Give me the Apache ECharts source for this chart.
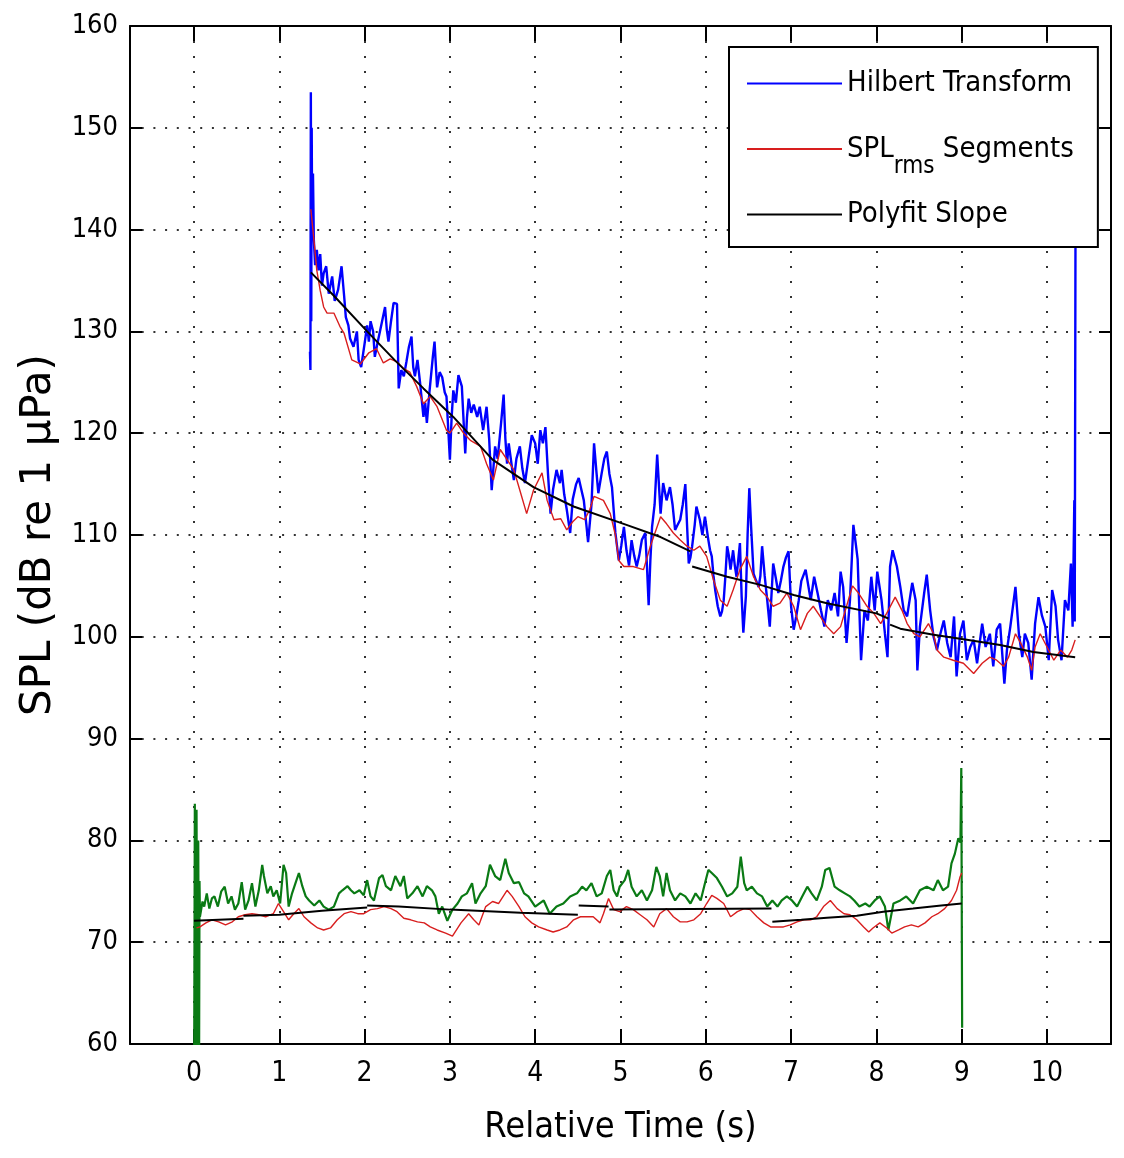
<!DOCTYPE html>
<html>
<head>
<meta charset="utf-8">
<script src="https://cdn.jsdelivr.net/npm/echarts@6/dist/echarts.min.js"></script>
<style>
  html, body { margin: 0; padding: 0; background: #fff; }
  #main { width: 1124px; height: 1158px; }
</style>
</head>
<body>
<div id="main"></div>
<script>
// tick labels
const timeTicks = [0, 1, 2, 3, 4, 5, 6, 7, 8, 9, 10];

// Hilbert transform envelope [s, dB]
const hilbert = [
  [1.360, 128.0], [1.365, 126.2], [1.370, 153.5], [1.375, 131.0], [1.380, 150.0], [1.385, 141.0],
  [1.395, 145.5], [1.405, 139.0], [1.42, 136.5], [1.44, 138.0], [1.46, 136.0], [1.48, 137.6],
  [1.50, 134.5], [1.52, 135.7], [1.55, 136.4], [1.58, 133.7], [1.62, 135.4], [1.65, 133.0],
  [1.69, 134.1], [1.73, 136.4], [1.76, 133.5], [1.78, 131.4], [1.81, 130.6], [1.83, 129.3],
  [1.87, 128.5], [1.91, 130.0], [1.93, 127.2], [1.96, 126.5], [2.00, 128.8], [2.03, 130.6],
  [2.05, 129.0], [2.07, 131.0], [2.10, 130.0], [2.12, 127.5], [2.15, 128.8], [2.18, 130.0],
  [2.21, 131.2], [2.24, 132.4], [2.26, 130.2], [2.28, 129.0], [2.31, 131.0], [2.34, 132.8],
  [2.38, 132.7], [2.40, 124.4], [2.43, 126.2], [2.46, 125.6], [2.49, 127.0], [2.52, 128.5],
  [2.55, 129.5], [2.57, 126.5], [2.59, 125.6], [2.62, 127.2], [2.65, 125.0], [2.69, 121.6],
  [2.71, 123.0], [2.73, 121.0], [2.76, 124.0], [2.80, 127.5], [2.82, 129.0], [2.85, 124.5],
  [2.88, 126.0], [2.91, 125.5], [2.94, 124.0], [2.96, 123.6], [3.00, 117.4], [3.02, 121.5],
  [3.04, 124.2], [3.07, 123.0], [3.10, 125.7], [3.14, 124.6], [3.18, 118.0], [3.20, 121.5],
  [3.22, 123.4], [3.25, 122.0], [3.28, 122.8], [3.32, 121.6], [3.35, 122.6], [3.39, 120.3],
  [3.43, 122.6], [3.46, 119.5], [3.49, 114.4], [3.53, 118.7], [3.56, 117.5], [3.60, 121.0],
  [3.63, 123.8], [3.65, 119.5], [3.67, 117.0], [3.69, 119.0], [3.71, 119.0], [3.73, 116.5],
  [3.75, 115.4], [3.78, 117.5], [3.82, 118.7], [3.85, 116.5], [3.88, 115.1], [3.92, 117.5],
  [3.96, 119.8], [4.00, 119.0], [4.03, 117.0], [4.06, 120.3], [4.09, 119.0], [4.12, 120.6],
  [4.15, 116.0], [4.18, 112.1], [4.21, 114.5], [4.25, 116.4], [4.29, 115.1], [4.31, 116.4],
  [4.34, 114.0], [4.37, 112.5], [4.41, 110.2], [4.44, 113.5], [4.48, 115.0], [4.51, 115.6],
  [4.54, 114.5], [4.57, 113.4], [4.60, 111.0], [4.62, 109.3], [4.66, 113.0], [4.69, 119.0],
  [4.72, 116.0], [4.74, 114.1], [4.78, 116.1], [4.81, 117.5], [4.84, 118.2], [4.87, 116.0],
  [4.90, 114.7], [4.94, 110.2], [4.98, 107.5], [5.01, 109.0], [5.04, 110.8], [5.07, 108.5],
  [5.10, 107.0], [5.13, 109.5], [5.16, 108.0], [5.19, 106.9], [5.22, 108.0], [5.25, 109.5],
  [5.29, 110.2], [5.31, 107.0], [5.33, 103.1], [5.35, 107.5], [5.37, 110.8], [5.40, 113.0],
  [5.43, 117.9], [5.45, 115.0], [5.47, 112.1], [5.50, 115.1], [5.54, 113.4], [5.58, 114.7],
  [5.61, 113.0], [5.64, 110.5], [5.67, 111.0], [5.70, 111.5], [5.73, 113.0], [5.76, 115.0],
  [5.78, 111.0], [5.80, 107.2], [5.82, 107.8], [5.84, 108.9], [5.87, 111.0], [5.89, 112.8],
  [5.93, 111.5], [5.96, 110.0], [5.99, 111.8], [6.03, 109.5], [6.05, 108.5], [6.07, 107.9],
  [6.09, 106.0], [6.11, 104.6], [6.14, 103.0], [6.17, 102.0], [6.19, 102.5], [6.21, 103.6],
  [6.23, 106.0], [6.25, 108.9], [6.27, 108.0], [6.29, 106.6], [6.32, 108.5], [6.34, 107.0],
  [6.36, 105.9], [6.38, 107.5], [6.40, 109.2], [6.42, 104.0], [6.44, 100.4], [6.47, 104.0],
  [6.49, 110.0], [6.51, 114.6], [6.53, 111.0], [6.56, 106.2], [6.59, 105.5], [6.62, 104.9],
  [6.64, 106.0], [6.66, 108.9], [6.69, 106.0], [6.72, 103.6], [6.75, 101.0], [6.79, 107.2],
  [6.82, 105.8], [6.85, 104.3], [6.88, 105.5], [6.91, 106.9], [6.94, 107.8], [6.97, 108.4],
  [7.00, 103.0], [7.03, 100.7], [7.06, 102.0], [7.09, 103.6], [7.12, 105.5], [7.17, 106.6],
  [7.23, 103.6], [7.27, 105.9], [7.31, 104.3], [7.35, 102.6], [7.39, 101.0], [7.43, 103.6],
  [7.47, 102.6], [7.51, 104.3], [7.55, 102.0], [7.58, 106.4], [7.61, 104.9], [7.65, 99.4],
  [7.69, 103.6], [7.73, 111.0], [7.76, 109.0], [7.78, 107.6], [7.82, 97.7], [7.86, 102.6],
  [7.90, 101.6], [7.94, 105.9], [7.98, 102.6], [8.01, 106.4], [8.06, 103.6], [8.10, 100.3],
  [8.13, 98.0], [8.16, 106.9], [8.19, 108.5], [8.24, 106.9], [8.28, 104.9], [8.32, 102.6],
  [8.36, 102.0], [8.42, 105.3], [8.46, 103.6], [8.48, 96.7], [8.51, 101.0], [8.56, 104.3],
  [8.59, 106.1], [8.63, 102.6], [8.67, 100.0], [8.71, 98.7], [8.75, 100.3], [8.79, 101.6],
  [8.83, 99.4], [8.87, 98.0], [8.91, 102.0], [8.94, 96.1], [8.98, 100.3], [9.02, 101.6],
  [9.06, 97.7], [9.10, 99.0], [9.14, 99.7], [9.18, 97.4], [9.24, 101.3], [9.28, 99.0],
  [9.33, 100.3], [9.37, 97.1], [9.41, 100.7], [9.45, 101.3], [9.50, 95.4], [9.53, 98.7],
  [9.57, 101.0], [9.63, 104.9], [9.67, 100.3], [9.71, 98.0], [9.74, 100.3], [9.78, 99.4],
  [9.82, 95.8], [9.86, 101.3], [9.90, 103.9], [9.94, 102.1], [9.98, 101.0], [10.02, 97.7],
  [10.06, 104.6], [10.10, 103.0], [10.13, 99.7], [10.17, 97.7], [10.21, 103.6], [10.25, 102.6],
  [10.28, 107.2], [10.30, 101.0], [10.31, 106.9], [10.32, 113.4], [10.325, 101.5], [10.335, 145.0]
];

// SPL rms segments, loud part
const rmsUpper = [
  [1.37, 142.0], [1.40, 139.5], [1.44, 136.0], [1.48, 134.0], [1.52, 132.4], [1.56, 131.8],
  [1.64, 131.8], [1.71, 130.5], [1.76, 129.8], [1.85, 127.2], [1.95, 126.8], [2.05, 127.9],
  [2.14, 128.3], [2.22, 126.9], [2.30, 127.3], [2.38, 127.0], [2.45, 126.4], [2.53, 126.0],
  [2.61, 124.6], [2.69, 122.9], [2.77, 123.6], [2.85, 122.6], [2.96, 120.3], [3.00, 120.0],
  [3.08, 121.0], [3.16, 120.0], [3.24, 119.3], [3.36, 118.7], [3.43, 117.0], [3.51, 115.4],
  [3.59, 118.4], [3.67, 117.4], [3.75, 116.4], [3.82, 114.4], [3.90, 112.1], [3.98, 114.4],
  [4.08, 116.1], [4.14, 113.4], [4.22, 111.5], [4.30, 111.6], [4.37, 110.5], [4.44, 111.3],
  [4.50, 111.8], [4.58, 111.5], [4.64, 112.5], [4.69, 113.8], [4.80, 113.4], [4.88, 112.1],
  [4.94, 110.0], [4.98, 107.5], [5.04, 106.9], [5.15, 106.9], [5.27, 106.6], [5.35, 108.9],
  [5.47, 111.8], [5.54, 111.1], [5.62, 110.2], [5.70, 109.5], [5.78, 108.9], [5.86, 108.5],
  [5.93, 108.9], [6.01, 107.9], [6.09, 105.6], [6.17, 103.6], [6.25, 103.0], [6.32, 104.6],
  [6.40, 106.6], [6.48, 107.9], [6.56, 105.9], [6.64, 104.6], [6.72, 103.9], [6.79, 103.0],
  [6.87, 103.3], [6.95, 104.3], [7.03, 103.0], [7.11, 100.7], [7.19, 102.3], [7.26, 103.0],
  [7.34, 102.0], [7.42, 101.0], [7.50, 100.3], [7.58, 101.0], [7.66, 103.3], [7.72, 105.0],
  [7.79, 104.3], [7.89, 103.0], [7.97, 102.3], [8.05, 101.3], [8.12, 102.3], [8.22, 103.9],
  [8.30, 102.6], [8.36, 101.3], [8.44, 100.3], [8.51, 100.0], [8.61, 101.3], [8.67, 100.3],
  [8.71, 98.7], [8.79, 98.0], [8.90, 97.7], [9.02, 97.4], [9.14, 96.4], [9.24, 97.4],
  [9.33, 98.0], [9.41, 97.7], [9.49, 97.1], [9.55, 98.0], [9.63, 100.3], [9.69, 99.4],
  [9.77, 98.0], [9.82, 96.7], [9.86, 99.0], [9.92, 100.3], [10.00, 99.0], [10.08, 97.7],
  [10.16, 98.7], [10.24, 98.0], [10.29, 98.7], [10.33, 99.7]
];

// SPL rms segments, quiet part
const rmsLower = [
  [0.03, 71.4], [0.07, 71.5], [0.14, 71.9], [0.21, 72.2], [0.29, 72.0], [0.37, 71.7],
  [0.45, 72.0], [0.52, 72.5], [0.60, 72.7], [0.68, 72.8], [0.76, 72.7], [0.84, 72.5],
  [0.93, 72.8], [0.99, 73.8], [1.05, 73.0], [1.11, 72.2], [1.17, 72.8], [1.23, 73.3],
  [1.29, 72.5], [1.37, 71.9], [1.45, 71.4], [1.52, 71.2], [1.60, 71.4], [1.68, 72.2],
  [1.76, 72.8], [1.84, 73.0], [1.92, 72.8], [1.99, 72.8], [2.07, 73.2], [2.15, 73.3],
  [2.23, 73.5], [2.31, 73.3], [2.38, 73.0], [2.46, 72.35], [2.54, 72.2], [2.62, 72.0],
  [2.70, 71.9], [2.77, 71.5], [2.85, 71.2], [2.95, 70.9], [3.03, 70.6], [3.13, 71.9],
  [3.22, 72.8], [3.28, 72.2], [3.34, 71.7], [3.42, 73.5], [3.50, 74.0], [3.57, 73.8],
  [3.67, 75.1], [3.73, 74.5], [3.81, 73.5], [3.88, 72.5], [3.96, 71.9], [4.04, 71.5],
  [4.14, 71.2], [4.21, 71.0], [4.29, 71.2], [4.37, 71.5], [4.45, 72.2], [4.53, 72.5],
  [4.60, 72.5], [4.68, 72.5], [4.76, 71.9], [4.80, 72.8], [4.86, 74.3], [4.92, 73.2],
  [4.99, 73.0], [5.07, 73.5], [5.15, 73.2], [5.23, 72.7], [5.31, 72.2], [5.39, 71.5],
  [5.46, 72.8], [5.54, 73.3], [5.62, 72.5], [5.70, 72.0], [5.78, 72.0], [5.86, 72.2],
  [5.94, 72.8], [6.01, 73.8], [6.07, 74.6], [6.13, 74.3], [6.21, 73.8], [6.29, 72.5],
  [6.37, 73.0], [6.45, 73.3], [6.52, 73.2], [6.60, 72.5], [6.68, 71.9], [6.76, 71.5],
  [6.84, 71.5], [6.91, 71.5], [6.99, 71.7], [7.07, 72.0], [7.15, 72.2], [7.23, 72.2],
  [7.30, 72.5], [7.38, 73.5], [7.46, 74.1], [7.54, 73.3], [7.62, 72.8], [7.69, 72.7],
  [7.77, 72.2], [7.85, 71.5], [7.91, 71.0], [7.96, 71.4], [8.04, 71.9], [8.12, 71.4],
  [8.18, 70.9], [8.26, 71.2], [8.33, 71.5], [8.41, 71.7], [8.49, 71.5], [8.57, 71.9],
  [8.65, 72.5], [8.72, 72.8], [8.80, 73.3], [8.88, 74.1], [8.94, 75.1], [8.98, 76.4],
  [9.00, 76.8]
];

// polyfit slope segments (null = gap between segments)
const fitUpper = [
  [1.37, 135.8], [1.64, 133.5], [2.03, 130.0], [2.35, 127.2], [2.69, 124.4], [3.04, 121.6],
  [3.50, 117.4], [3.98, 114.7], [4.45, 112.8], [5.07, 111.0], [5.47, 109.8], [5.82, 108.4],
  [5.83, null], [5.84, 106.9], [6.25, 105.9], [6.64, 105.1], [7.03, 104.1], [7.42, 103.3],
  [8.00, 102.3], [8.14, 101.8], [8.15, null], [8.16, 101.2], [8.28, 100.8], [8.67, 100.2],
  [9.06, 99.7], [9.45, 99.2], [9.84, 98.5], [10.33, 98.0]
];
const fitLower = [
  [0.00, 72.1], [0.58, 72.3], [0.58, null], [0.58, 72.6], [1.00, 72.7], [1.50, 73.1],
  [2.03, 73.4], [2.03, null], [2.03, 73.6], [2.40, 73.5], [3.00, 73.2], [3.83, 72.9],
  [4.50, 72.7], [4.50, null], [4.51, 73.6], [4.86, 73.5], [4.86, null], [4.87, 73.2],
  [6.77, 73.3], [6.77, null], [6.78, 72.0], [7.12, 72.2], [7.42, 72.4], [7.77, 72.6],
  [8.08, 73.0], [8.43, 73.3], [8.76, 73.6], [9.00, 73.8]
];

// background noise level, 0 - 9 s
const noise = [
  [0.00, 50.0], [0.01, 83.6], [0.02, 52.0], [0.03, 83.0], [0.04, 55.0], [0.05, 80.0],
  [0.06, 58.0], [0.065, 76.0], [0.07, 72.5], [0.10, 74.0], [0.12, 73.5], [0.15, 74.8],
  [0.18, 73.3], [0.21, 74.3], [0.24, 74.5], [0.28, 73.5], [0.32, 75.0], [0.36, 75.45],
  [0.40, 73.8], [0.44, 74.5], [0.48, 73.2], [0.52, 73.8], [0.56, 75.9], [0.60, 73.2],
  [0.64, 74.1], [0.68, 75.8], [0.72, 73.5], [0.76, 75.1], [0.80, 77.6], [0.82, 76.5],
  [0.86, 74.8], [0.90, 75.5], [0.93, 74.5], [0.97, 75.1], [1.01, 73.8], [1.05, 77.6],
  [1.08, 76.8], [1.11, 73.5], [1.15, 74.8], [1.19, 75.8], [1.23, 76.8], [1.27, 75.5],
  [1.31, 74.5], [1.35, 74.1], [1.41, 73.6], [1.47, 74.1], [1.52, 73.5], [1.58, 73.2],
  [1.64, 73.5], [1.70, 74.8], [1.74, 75.1], [1.80, 75.5], [1.84, 75.1], [1.88, 74.8],
  [1.94, 75.1], [1.99, 74.6], [2.03, 76.1], [2.07, 74.5], [2.11, 74.1], [2.17, 76.3],
  [2.21, 76.6], [2.25, 75.5], [2.31, 75.1], [2.36, 76.5], [2.42, 75.5], [2.46, 76.5],
  [2.50, 74.3], [2.56, 74.8], [2.62, 75.5], [2.68, 74.5], [2.73, 75.5], [2.79, 75.1],
  [2.83, 74.5], [2.87, 72.8], [2.91, 73.5], [2.97, 72.1], [3.03, 73.2], [3.09, 73.8],
  [3.14, 74.5], [3.20, 74.8], [3.26, 75.8], [3.30, 73.8], [3.36, 74.8], [3.42, 75.5],
  [3.47, 77.6], [3.53, 76.5], [3.59, 76.1], [3.65, 78.2], [3.69, 76.8], [3.75, 75.8],
  [3.81, 75.9], [3.87, 74.8], [3.92, 74.5], [4.00, 73.5], [4.10, 74.1], [4.17, 72.8],
  [4.25, 73.5], [4.33, 73.8], [4.41, 74.5], [4.49, 74.8], [4.55, 75.45], [4.60, 75.1],
  [4.66, 75.8], [4.72, 74.5], [4.78, 74.8], [4.84, 76.5], [4.88, 77.1], [4.92, 75.1],
  [4.96, 74.5], [4.99, 75.45], [5.05, 76.1], [5.09, 77.1], [5.13, 75.45], [5.19, 74.5],
  [5.25, 75.1], [5.31, 74.1], [5.37, 75.1], [5.42, 77.4], [5.46, 76.5], [5.50, 74.5],
  [5.54, 76.8], [5.58, 75.1], [5.64, 74.1], [5.70, 74.8], [5.76, 74.5], [5.82, 73.8],
  [5.88, 74.8], [5.94, 74.1], [5.99, 75.8], [6.03, 77.1], [6.07, 76.8], [6.13, 76.3],
  [6.19, 75.45], [6.25, 74.5], [6.31, 74.8], [6.37, 75.45], [6.41, 78.4], [6.45, 75.8],
  [6.48, 75.1], [6.54, 75.45], [6.60, 74.8], [6.66, 74.5], [6.72, 73.5], [6.78, 74.1],
  [6.84, 73.5], [6.89, 74.1], [6.95, 74.5], [7.01, 74.1], [7.07, 73.5], [7.13, 74.5],
  [7.19, 75.45], [7.24, 74.8], [7.30, 74.1], [7.36, 75.45], [7.40, 77.1], [7.45, 77.3],
  [7.51, 75.45], [7.57, 75.1], [7.63, 74.8], [7.69, 74.5], [7.74, 74.1], [7.80, 73.5],
  [7.87, 73.8], [7.92, 73.5], [7.98, 74.1], [8.04, 74.5], [8.10, 73.5], [8.14, 71.2],
  [8.20, 73.8], [8.28, 74.1], [8.35, 74.5], [8.43, 73.8], [8.51, 75.1], [8.59, 75.45],
  [8.67, 75.1], [8.72, 76.1], [8.78, 75.1], [8.84, 75.45], [8.88, 77.75], [8.92, 78.7],
  [8.96, 80.2], [8.985, 79.8], [8.995, 87.1], [9.005, 61.6]
];

const condensed = "'Liberation Sans Narrow', 'DejaVu Sans Condensed', 'Liberation Sans', sans-serif";
const plain = "'DejaVu Sans', 'Liberation Sans', sans-serif";

const chart = echarts.init(document.getElementById('main'));

const edgeLine = { show: true, onZero: false, lineStyle: { color: '#000', width: 2 } };
const dots = (gap) => ({ show: true, lineStyle: { type: [2, gap], color: '#333', width: 2 } });

const option = {
  animation: false,
  backgroundColor: '#fff',
  grid: { left: 130, right: 13, top: 26, bottom: 114 },
  legend: {
    data: ['Hilbert Transform', 'SPLrms Segments', 'Polyfit Slope'],
    orient: 'vertical',
    left: 729,
    top: 47,
    backgroundColor: '#fff',
    borderColor: '#000',
    borderWidth: 2,
    padding: [22, 24, 18, 18],
    icon: 'rect',
    itemWidth: 95,
    itemHeight: 2,
    itemGap: 21,
    selectedMode: false,
    z: 10,
    formatter: (n) => n === 'SPLrms Segments' ? '{a|SPL}{b|rms}{a| Segments}' : '{a|' + n + '}',
    textStyle: {
      rich: {
        a: { fontFamily: condensed, fontSize: 29, lineHeight: 40, color: '#000' },
        b: { fontFamily: condensed, fontSize: 24, lineHeight: 2, padding: [36, 0, 0, 0], color: '#000' }
      }
    }
  },
  xAxis: [
    {
      type: 'value', min: -0.75, max: 10.75, position: 'bottom',
      axisLine: edgeLine,
      axisTick: { show: true, inside: true, length: 15, customValues: timeTicks, lineStyle: { color: '#000', width: 2 } },
      axisLabel: { customValues: timeTicks, margin: 16, color: '#000', fontFamily: condensed, fontSize: 28 },
      splitLine: dots(13),
      name: 'Relative Time (s)', nameLocation: 'middle', nameGap: 66,
      nameTextStyle: { color: '#000', fontFamily: condensed, fontSize: 36 }
    },
    {
      type: 'value', min: -0.75, max: 10.75, position: 'top',
      axisLine: edgeLine,
      axisTick: { show: true, inside: true, length: 15, customValues: timeTicks, lineStyle: { color: '#000', width: 2 } },
      axisLabel: { show: false },
      splitLine: { show: false }
    }
  ],
  yAxis: [
    {
      type: 'value', min: 60, max: 160, interval: 10, position: 'left',
      axisLine: edgeLine,
      axisTick: { show: true, inside: true, length: 12, lineStyle: { color: '#000', width: 2 } },
      axisLabel: { margin: 12, color: '#000', fontFamily: condensed, fontSize: 27 },
      splitLine: dots(9.7),
      name: 'SPL (dB re 1 µPa)', nameLocation: 'middle', nameGap: 70,
      nameTextStyle: { color: '#000', fontFamily: plain, fontSize: 42 }
    },
    {
      type: 'value', min: 60, max: 160, interval: 10, position: 'right',
      axisLine: edgeLine,
      axisTick: { show: true, inside: true, length: 12, lineStyle: { color: '#000', width: 2 } },
      axisLabel: { show: false },
      splitLine: { show: false }
    }
  ],
  series: [
    {
      name: 'Hilbert Transform', type: 'line', data: hilbert, symbol: 'none',
      lineStyle: { color: '#0000ff', width: 2.4 }, itemStyle: { color: '#0000ff' }
    },
    {
      name: 'Noise', type: 'line', data: noise, symbol: 'none',
      lineStyle: { color: '#0a7a14', width: 2.2 }, itemStyle: { color: '#0a7a14' }
    },
    {
      name: 'SPLrms Segments', type: 'line', data: rmsUpper, symbol: 'none',
      lineStyle: { color: '#d81e1e', width: 1.4 }, itemStyle: { color: '#d81e1e' }
    },
    {
      name: 'SPLrms Segments', type: 'line', data: rmsLower, symbol: 'none',
      lineStyle: { color: '#d81e1e', width: 1.4 }, itemStyle: { color: '#d81e1e' }
    },
    {
      name: 'Polyfit Slope', type: 'line', data: fitUpper, symbol: 'none',
      lineStyle: { color: '#000', width: 2 }, itemStyle: { color: '#000' }
    },
    {
      name: 'Polyfit Slope', type: 'line', data: fitLower, symbol: 'none',
      lineStyle: { color: '#000', width: 2 }, itemStyle: { color: '#000' }
    }
  ]
};

chart.setOption(option);
</script>
</body>
</html>
